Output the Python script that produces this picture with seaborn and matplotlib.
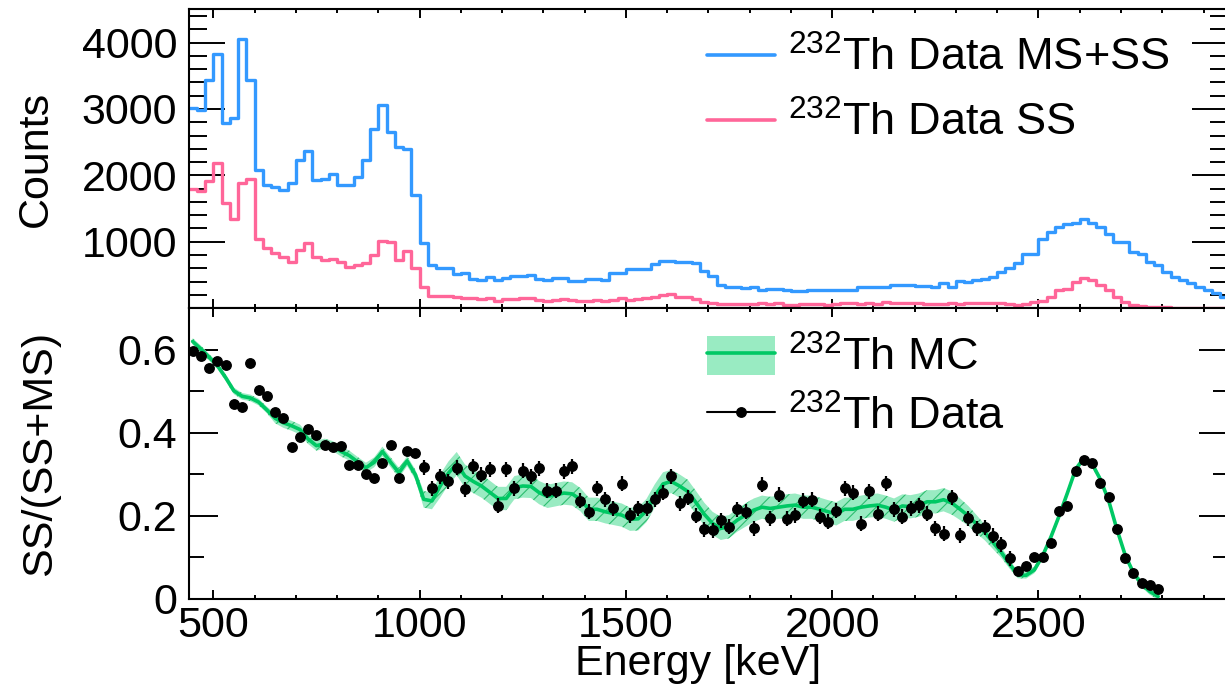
import numpy as np
import pandas as pd
import matplotlib
matplotlib.use("Agg")
import matplotlib.pyplot as plt
from matplotlib.ticker import FixedLocator, MultipleLocator, FuncFormatter
from matplotlib.lines import Line2D
from matplotlib.patches import Patch
import seaborn as sns

sns.set_theme(style="ticks")
plt.rcParams["font.family"] = ["Liberation Sans", "DejaVu Sans"]
plt.rcParams["mathtext.fontset"] = "custom"
plt.rcParams["mathtext.rm"] = "Liberation Sans"
plt.rcParams["mathtext.it"] = "Liberation Sans:italic"
plt.rcParams["mathtext.default"] = "regular"
plt.rcParams["hatch.linewidth"] = 0.8
for key in ("text.color", "axes.labelcolor", "xtick.color", "ytick.color",
            "axes.edgecolor"):
    plt.rcParams[key] = "black"

# ---------------------------------------------------------------- data
# energy bins: 20 keV wide from 440 to 2960 keV
energy_edges = list(range(440, 2961, 20))
energy_centers = [e + 10 for e in energy_edges[:-1]]

# 232Th source, all events (multi-site + single-site), counts per bin
counts_ms_ss = [
    3020, 2990, 3430, 3820, 2790, 2870, 4060, 3440, 2080, 1850,
    1820, 1780, 1890, 2230, 2370, 1930, 1940, 2020, 1860, 1860,
    1970, 2230, 2700, 3060, 2650, 2430, 2390, 1700, 975, 650,
    600, 600, 515, 525, 435, 425, 465, 430, 460, 485,
    485, 500, 435, 425, 450, 450, 410, 410, 440, 440,
    425, 525, 525, 585, 585, 585, 660, 715, 715, 700,
    690, 675, 565, 485, 350, 315, 315, 300, 325, 275,
    295, 295, 275, 260, 260, 275, 275, 275, 275, 275,
    275, 315, 315, 325, 325, 355, 355, 355, 335, 335,
    315, 375, 315, 410, 390, 425, 440, 465, 550, 600,
    675, 815, 815, 1035, 1140, 1215, 1275, 1290, 1350, 1290,
    1225, 1110, 1000, 1000, 850, 810, 700, 650, 550, 475,
    425, 385, 315, 275, 235, 175,
]

# 232Th source, single-site events only
counts_ss = [
    1800, 1760, 1910, 2190, 1580, 1350, 1885, 1950, 1045, 905,
    825, 775, 695, 875, 975, 770, 730, 745, 695, 615,
    645, 675, 795, 1010, 1000, 720, 860, 600, 315, 185,
    185, 180, 175, 150, 155, 140, 148, 110, 135, 135,
    150, 150, 130, 112, 116, 140, 122, 102, 105, 120,
    115, 128, 148, 130, 145, 150, 170, 195, 213, 168,
    170, 140, 100, 82, 70, 62, 70, 65, 60, 72,
    58, 72, 55, 55, 62, 66, 56, 53, 60, 74,
    72, 60, 84, 70, 90, 78, 72, 78, 76, 70,
    56, 60, 78, 64, 75, 72, 76, 72, 72, 62,
    50, 64, 90, 115, 165, 268, 295, 400, 450, 424,
    345, 273, 170, 98, 50, 32, 24, 15, 12, 10,
    8, 8, 6, 6, 5, 5,
]

# single-site fraction, bin centres 450 ... 2790 keV
fraction_centers = list(range(450, 2791, 20))

ss_fraction_data = [
    0.598, 0.585, 0.556, 0.574, 0.563, 0.470, 0.463, 0.568, 0.502, 0.489,
    0.451, 0.435, 0.365, 0.391, 0.410, 0.395, 0.371, 0.365, 0.369, 0.323,
    0.323, 0.301, 0.292, 0.327, 0.371, 0.292, 0.357, 0.351, 0.317, 0.267,
    0.296, 0.283, 0.316, 0.264, 0.320, 0.299, 0.312, 0.224, 0.312, 0.267,
    0.309, 0.295, 0.315, 0.261, 0.261, 0.308, 0.319, 0.237, 0.210, 0.267,
    0.240, 0.218, 0.277, 0.202, 0.218, 0.218, 0.240, 0.256, 0.296, 0.230,
    0.244, 0.200, 0.168, 0.166, 0.190, 0.174, 0.216, 0.210, 0.170, 0.275,
    0.194, 0.251, 0.193, 0.202, 0.236, 0.239, 0.198, 0.186, 0.213, 0.267,
    0.256, 0.181, 0.259, 0.205, 0.279, 0.216, 0.198, 0.218, 0.226, 0.205,
    0.170, 0.157, 0.245, 0.154, 0.194, 0.170, 0.173, 0.152, 0.132, 0.098,
    0.067, 0.079, 0.100, 0.100, 0.136, 0.213, 0.224, 0.309, 0.335, 0.328,
    0.279, 0.245, 0.168, 0.098, 0.062, 0.039, 0.034, 0.023,
]
ss_fraction_data_err = [0.006] * 28 + [0.018] * 72 + [0.008] * 18

ss_fraction_mc = [
    0.620, 0.602, 0.582, 0.562, 0.533, 0.501, 0.488, 0.484, 0.474, 0.455,
    0.435, 0.424, 0.417, 0.408, 0.385, 0.369, 0.374, 0.368, 0.355, 0.345,
    0.330, 0.316, 0.329, 0.355, 0.329, 0.304, 0.332, 0.299, 0.240, 0.236,
    0.272, 0.303, 0.326, 0.296, 0.283, 0.272, 0.257, 0.242, 0.242, 0.268,
    0.272, 0.271, 0.256, 0.247, 0.251, 0.255, 0.253, 0.239, 0.216, 0.216,
    0.210, 0.206, 0.202, 0.192, 0.193, 0.213, 0.248, 0.277, 0.283, 0.272,
    0.259, 0.232, 0.204, 0.182, 0.170, 0.174, 0.190, 0.202, 0.214, 0.221,
    0.218, 0.221, 0.224, 0.226, 0.221, 0.221, 0.216, 0.210, 0.205, 0.216,
    0.216, 0.221, 0.224, 0.226, 0.221, 0.214, 0.224, 0.222, 0.226, 0.234,
    0.234, 0.239, 0.231, 0.216, 0.200, 0.180, 0.160, 0.136, 0.112, 0.084,
    0.058, 0.057, 0.070, 0.104, 0.149, 0.200, 0.255, 0.312, 0.339, 0.325,
    0.288, 0.237, 0.168, 0.106, 0.063, 0.036, 0.018, 0.006,
]
ss_fraction_mc_err = ([0.008] * 10 + [0.012] * 18 + [0.020] * 2 + [0.028] * 63
                      + [0.026, 0.024, 0.022, 0.019, 0.016, 0.013, 0.011]
                      + [0.008] * 18)

spectra = pd.DataFrame({
    "energy": energy_centers,
    "ms_ss": counts_ms_ss,
    "ss": counts_ss,
})
fraction = pd.DataFrame({
    "energy": fraction_centers,
    "data": ss_fraction_data,
    "data_err": ss_fraction_data_err,
    "mc": ss_fraction_mc,
    "mc_err": ss_fraction_mc_err,
})

# ---------------------------------------------------------------- style
BLUE = "#3399ff"
PINK = "#ff6699"
GREEN = "#00c864"
GREEN_FILL = "#99ebc2"
GREEN_HATCH = "#2dbd6e"
FS = 31
LEG_FS = 32.5

W, H = 1225, 687
fig = plt.figure(figsize=(W / 100, H / 100), dpi=100)
x0, x1 = 188.5, 1228.3
y_top, y_mid, y_bot = 9.3, 308.2, 599.0
ax_top = fig.add_axes([x0 / W, 1 - y_mid / H, (x1 - x0) / W, (y_mid - y_top) / H])
ax_bot = fig.add_axes([x0 / W, 1 - y_bot / H, (x1 - x0) / W, (y_bot - y_mid) / H])

# ---------------------------------------------------------------- top panel
sns.histplot(data=spectra, x="energy", weights="ms_ss", bins=energy_edges,
             element="step", fill=False, color=BLUE, linewidth=2.4, ax=ax_top)
sns.histplot(data=spectra, x="energy", weights="ss", bins=energy_edges,
             element="step", fill=False, color=PINK, linewidth=2.4, ax=ax_top)

# ---------------------------------------------------------------- bottom panel
ax_bot.fill_between(fraction["energy"], fraction["mc"] - fraction["mc_err"],
                    fraction["mc"] + fraction["mc_err"],
                    facecolor=GREEN_FILL, edgecolor=GREEN_HATCH, hatch="//",
                    linewidth=0, zorder=2)
sns.lineplot(data=fraction, x="energy", y="mc", color=GREEN, linewidth=2.6,
             ax=ax_bot, zorder=3)
ax_bot.errorbar(fraction["energy"], fraction["data"], yerr=fraction["data_err"],
                fmt="o", color="black", markersize=6.8, elinewidth=1.6,
                capsize=0, zorder=5)

# ---------------------------------------------------------------- axes
for ax in (ax_top, ax_bot):
    ax.set_xlim(440, 2960)
    ax.xaxis.set_major_locator(FixedLocator([500, 1000, 1500, 2000, 2500]))
    ax.xaxis.set_minor_locator(MultipleLocator(100))
    for s in ax.spines.values():
        s.set_linewidth(1.5)
        s.set_color("black")
    ax.tick_params(which="both", direction="in", top=True, right=True,
                   colors="black", labelcolor="black", width=1.4, labelsize=FS)
    ax.tick_params(axis="x", which="major", length=6.5)
    ax.tick_params(axis="x", which="minor", length=3.2)

ax_top.set_ylim(0, 4500)
ax_top.yaxis.set_major_locator(FixedLocator([1000, 2000, 3000, 4000]))
ax_top.yaxis.set_minor_locator(MultipleLocator(200))
ax_top.tick_params(axis="y", which="major", length=26, pad=8)
ax_top.tick_params(axis="y", which="minor", length=13)
ax_top.tick_params(axis="x", labelbottom=False)
ax_top.set_xlabel("")
ax_top.set_ylabel("Counts", fontsize=FS, color="black")

ax_bot.set_ylim(0, 0.7)
ax_bot.yaxis.set_major_locator(FixedLocator([0, 0.2, 0.4, 0.6]))
ax_bot.yaxis.set_minor_locator(MultipleLocator(0.1))
ax_bot.yaxis.set_major_formatter(FuncFormatter(lambda v, p: "0" if v == 0 else f"{v:.1f}"))
ax_bot.xaxis.set_major_formatter(FuncFormatter(lambda v, p: f"{v:.0f}"))
ax_bot.tick_params(axis="y", which="major", length=21, pad=8)
ax_bot.tick_params(axis="y", which="minor", length=10.5)
ax_bot.tick_params(axis="x", which="major", pad=5)
ax_bot.set_xlabel("Energy [keV]", fontsize=FS, color="black")
ax_bot.set_ylabel("SS/(SS+MS)", fontsize=FS, color="black")

plot_w = x1 - x0
ax_top.yaxis.set_label_coords((36 - x0) / plot_w, 0.5)
ax_bot.yaxis.set_label_coords((40 - x0) / plot_w, 0.5)
ax_top.yaxis.label.set_va("center")
ax_bot.yaxis.label.set_va("center")
ax_bot.xaxis.set_label_coords((698 - x0) / plot_w, (y_bot - 664) / (y_bot - y_mid))
ax_bot.xaxis.label.set_va("center")

# ---------------------------------------------------------------- legends
top_handles = [Line2D([], [], color=BLUE, linewidth=2.6),
               Line2D([], [], color=PINK, linewidth=2.6)]
top_labels = [r"$^{232}$Th Data MS+SS", r"$^{232}$Th Data SS"]
ax_top.legend(top_handles, top_labels, loc="upper left",
              bbox_to_anchor=(707 / W, 1 - 37 / H), bbox_transform=fig.transFigure,
              frameon=False, fontsize=LEG_FS, handlelength=1.5, handletextpad=0.3,
              labelspacing=0.48, borderpad=0, borderaxespad=0, labelcolor="black")

bot_handles = [(Patch(facecolor=GREEN_FILL, edgecolor="none"),
                Line2D([], [], color=GREEN, linewidth=2.6)),
               Line2D([], [], color="black", linewidth=1.5, marker="o", markersize=6.8)]
bot_labels = [r"$^{232}$Th MC", r"$^{232}$Th Data"]
ax_bot.legend(bot_handles, bot_labels, loc="upper left",
              bbox_to_anchor=(707 / W, 1 - 336 / H), bbox_transform=fig.transFigure,
              frameon=False, fontsize=LEG_FS, handlelength=1.5, handleheight=0.95,
              handletextpad=0.3, labelspacing=0.32, borderpad=0, borderaxespad=0,
              labelcolor="black")

fig.savefig("out.png", dpi=100)
